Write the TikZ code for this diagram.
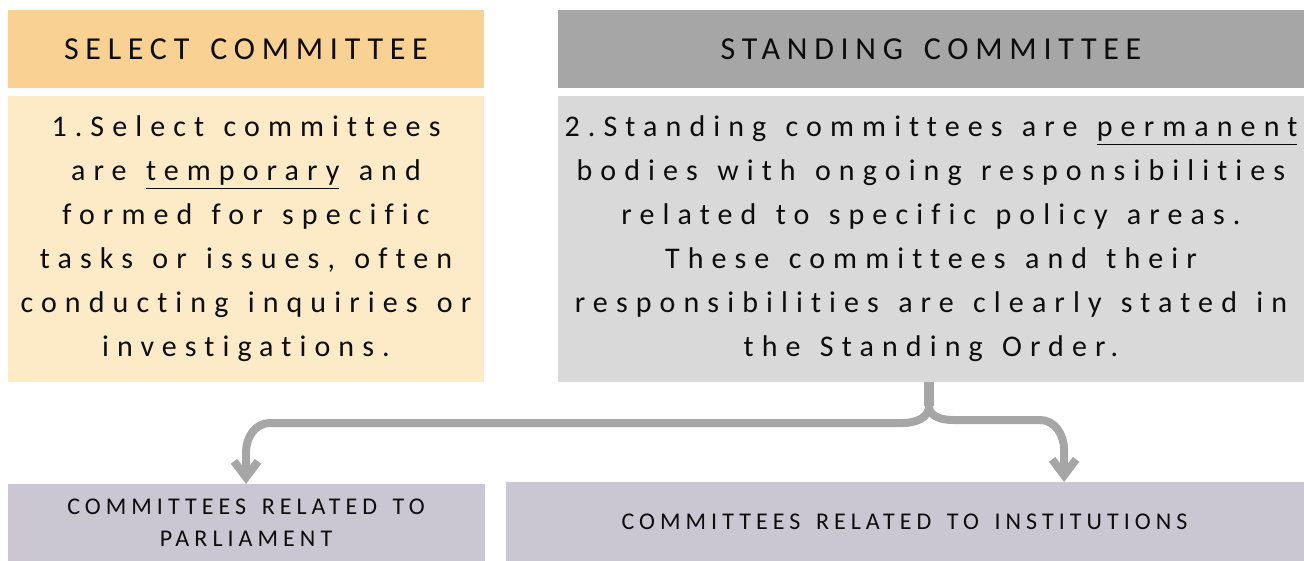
\documentclass[tikz,border=0pt]{standalone}
\usepackage{fontspec}
\setmainfont[Ligatures={NoCommon}]{Carlito}
\newfontfamily\headfont[Ligatures={NoCommon}, LetterSpace=21, WordSpace=1.3]{Carlito}
\newfontfamily\bodyfont[Ligatures={NoCommon}, LetterSpace=27, WordSpace=1.3]{Carlito}
\newfontfamily\subfont[Ligatures={NoCommon}, LetterSpace=21, WordSpace=1.5]{Carlito}
\usetikzlibrary{positioning, calc, arrows.meta}

\definecolor{selhead}{HTML}{F8D193}
\definecolor{selbody}{HTML}{FDEBC7}
\definecolor{stdhead}{HTML}{A6A6A6}
\definecolor{stdbody}{HTML}{D9D9D9}
\definecolor{subbox}{HTML}{CAC7D2}
\definecolor{arrgray}{HTML}{A6A6A6}
\definecolor{ink}{HTML}{0D0D0D}

\begin{document}
\begin{tikzpicture}[x=0.5pt, y=-0.5pt,
	box/.style={inner sep=0pt, outer sep=0pt, align=center, text=ink},
	headbox/.style={box, minimum height=39pt, font=\headfont\fontsize{16}{18}\selectfont},
	bodybox/.style={box, minimum height=143pt, font=\bodyfont\fontsize{15}{22}\selectfont},
	subboxst/.style={box, fill=subbox, font=\subfont\fontsize{12}{16}\selectfont},
	arr/.style={draw=arrgray, line width=4pt, -{Straight Barb[length=8pt, width=12pt]}}
	]

	\useasboundingbox (0,0) rectangle (1304,561);

	\node[headbox, fill=selhead, minimum width=238pt, anchor=north west] (selh) at (8,10) {SELECT COMMITTEE};
	\node[bodybox, fill=selbody, minimum width=238pt, below=4pt of selh] (selb)
	{1.Select committees\\ are \underline{temporary} and\\ formed for specific\\ tasks or issues, often\\ conducting inquiries or\\ investigations.};
	\node[headbox, fill=stdhead, minimum width=373pt, right=37pt of selh] (stdh) {STANDING COMMITTEE};
	\node[bodybox, fill=stdbody, minimum width=373pt, below=4pt of stdh] (stdb)
	{2.Standing committees are \underline{permanent}\\ bodies with ongoing responsibilities\\ related to specific policy areas.\\ These committees and their\\ responsibilities are clearly stated in\\ the Standing Order.};

	\node[subboxst, minimum width=238.5pt, minimum height=38.5pt, below=51pt of selb] (parl) {COMMITTEES RELATED TO\\ PARLIAMENT};
	\node[subboxst, minimum width=399pt, minimum height=39.5pt, right=10.5pt of parl.south east, anchor=south west] (inst) {COMMITTEES RELATED TO INSTITUTIONS};

	\coordinate (split) at ($(stdb.south)+(-2,24)$);
	\draw[draw=arrgray, line width=5pt] (stdb.south -| split) -- (split);
	\draw[arr] (split) to[out=-90, in=0] ++(-26,17) -- (270,423) to[out=180, in=90] (parl.north |- 0,452) -- (parl.north);
	\draw[arr] (split) to[out=-90, in=180] ++(24,14) -- (1040,420) to[out=0, in=90] ($(inst.north west)!0.7!(inst.north east) + (0,-32)$) -- ($(inst.north west)!0.7!(inst.north east)$);

\end{tikzpicture}
\end{document}
